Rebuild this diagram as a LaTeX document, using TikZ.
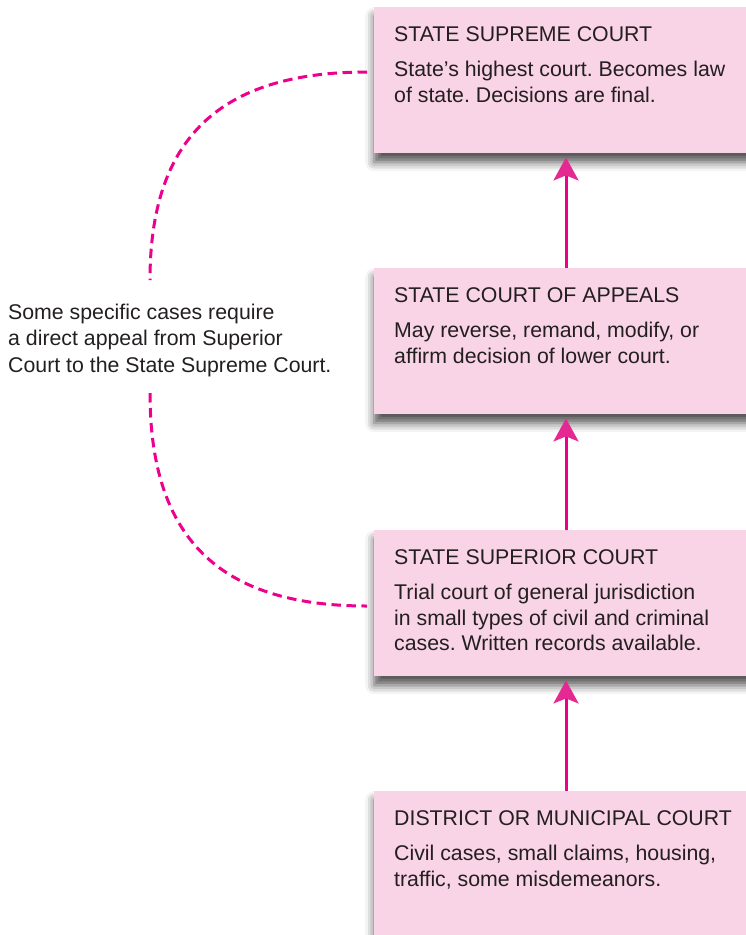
\documentclass[tikz,border=0pt]{standalone}
\usepackage{fontspec}
\setmainfont{Liberation Sans}
\usetikzlibrary{arrows.meta,shadows.blur,calc}

\definecolor{boxpink}{HTML}{F9D3E6}
\definecolor{courtmag}{HTML}{EC008C}
\definecolor{tipmag}{HTML}{E42A92}
\definecolor{inkgray}{HTML}{231F20}

\tikzset{
  courtbox/.style={rectangle, fill=boxpink, draw=none, anchor=north west,
    minimum width=390pt, minimum height=146pt, inner sep=0pt,
    blur shadow={shadow xshift=0pt, shadow yshift=-9pt,
      shadow blur radius=9pt, shadow opacity=68}},
  courttext/.style={anchor=base west, inner sep=0pt, text=inkgray,
    font=\fontsize{21.3}{25.5}\selectfont\frenchspacing},
  uparrow/.style={draw=courtmag, line width=3pt, shorten >=4pt,
    -{Stealth[length=23pt, width=25pt, inset=5pt, color=tipmag]}},
  directlink/.style={draw=courtmag, line width=3pt,
    dash pattern=on 9.5pt off 5.5pt},
}

\begin{document}
\begin{tikzpicture}[x=1pt, y=-1pt]
  \useasboundingbox (0,0) rectangle (746,935);
  \clip (0,0) rectangle (746,935);

  % the four courts, highest first
  \node[courtbox] (sup)  at (374,7)   {};
  \node[courtbox] (app)  at (374,268) {};
  \node[courtbox] (sc)   at (374,530) {};
  \node[courtbox, minimum height=170pt] (dist) at (374,791) {};

  \node[courttext] (suptxt) at ($(sup.north west)+(20,34.5)$)
    {\parbox[t]{345pt}{STATE SUPREME COURT\\[9.5pt]
      State’s highest court. Becomes law\\
      of state. Decisions are final.}};
  \node[courttext] (apptxt) at ($(app.north west)+(20,34.5)$)
    {\parbox[t]{345pt}{STATE COURT OF APPEALS\\[9.5pt]
      May reverse, remand, modify, or\\
      affirm decision of lower court.}};
  \node[courttext] (sctxt) at ($(sc.north west)+(20,34.5)$)
    {\parbox[t]{345pt}{STATE SUPERIOR COURT\\[9.5pt]
      Trial court of general jurisdiction\\
      in small types of civil and criminal\\
      cases. Written records available.}};
  \node[courttext] (disttxt) at ($(dist.north west)+(20,34.5)$)
    {\parbox[t]{345pt}{DISTRICT OR MUNICIPAL COURT\\[9.5pt]
      Civil cases, small claims, housing,\\
      traffic, some misdemeanors.}};

  % side note on direct appeals
  \node[courttext] (note) at (8,319)
    {\parbox[t]{345pt}{\fontsize{21.3}{26.5}\selectfont
      Some specific cases require\\
      a direct appeal from Superior\\
      Court to the State Supreme Court.}};

  % appeal path upwards
  \coordinate (spine) at (566,0);
  \draw[uparrow] (app.north -| spine)  -- (sup.south -| spine);
  \draw[uparrow] (sc.north -| spine)   -- (app.south -| spine);
  \draw[uparrow] (dist.north -| spine) -- (sc.south -| spine);

  % direct appeal bracket around the note
  \coordinate (noteTop) at (150,280);
  \coordinate (noteBot) at (150,393);
  \draw[directlink] ($(sup.north west)+(-7,65)$)
    .. controls ($(sup.north west)+(-155,65)$) and (150,139) .. (noteTop);
  \draw[directlink] (noteBot)
    .. controls (150,538) and ($(sc.north west)+(-155,76)$)
    .. ($(sc.north west)+(-7,76)$);
\end{tikzpicture}
\end{document}
